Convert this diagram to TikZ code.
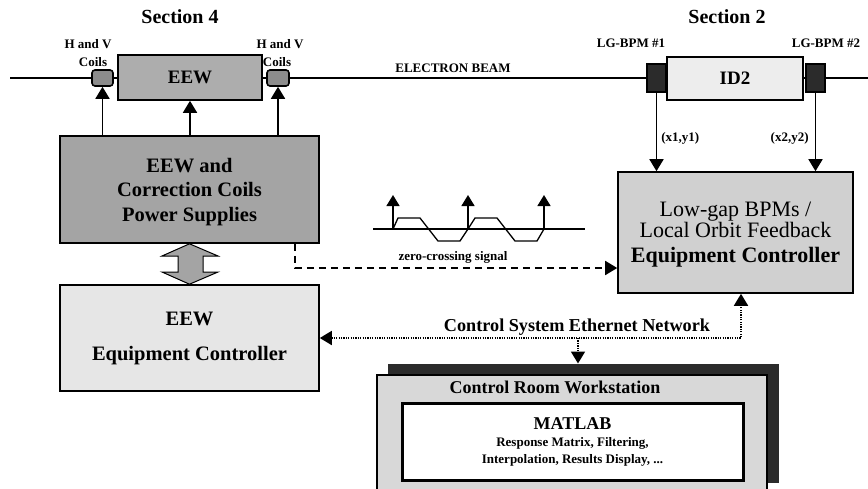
\documentclass[tikz,border=0pt]{standalone}
\usepackage{fontspec}
\setmainfont{Liberation Serif}
\usetikzlibrary{arrows.meta,calc}
\definecolor{psgray}{HTML}{A4A4A4}
\definecolor{eewgray}{HTML}{ADADAD}
\definecolor{coilgray}{HTML}{8C8C8C}
\definecolor{ctrlgray}{HTML}{E6E6E6}
\definecolor{lggray}{HTML}{D0D0D0}
\definecolor{wsgray}{HTML}{D8D8D8}
\definecolor{idgray}{HTML}{EDEDED}
\definecolor{darkblk}{HTML}{2B2B2B}
\begin{document}
\begin{tikzpicture}[x=1pt,y=-1pt,
  box/.style={draw=black,line width=1.6pt,inner sep=0pt,align=center},
  lab/.style={font=\fontsize{13}{15}\selectfont\bfseries,inner sep=0pt},
  big/.style={font=\fontsize{20}{24}\selectfont\bfseries,inner sep=0pt},
  tipA/.style={-{Triangle[width=14pt,length=12pt]}},
  arr/.style={line width=1.8pt,tipA},
  dasharr/.style={line width=1.8pt,dash pattern=on 7pt off 5pt,-{Triangle[width=14pt,length=12pt]}},
  net/.style={line width=1.8pt,dash pattern=on 1.3pt off 1.1pt},
  sig/.style={line width=1.3pt}
]
\useasboundingbox (0,0) rectangle (868,488);

% section labels
\node[big] (sec4) at (180,17) {Section 4};
\node[big] (sec2) at (727,17) {Section 2};

% electron beam
\coordinate (beamL) at (10,78);
\coordinate (beamR) at (868,78);
\draw[line width=1.5pt] (beamL) -- (beamR);
\node[lab] (beamlab) at (453,68) {ELECTRON BEAM};

% section 4 components
\node[box,fill=coilgray,rounded corners=3pt,minimum width=21pt,minimum height=16pt] (coilL) at (102.5,78) {};
\node[box,fill=eewgray,minimum width=144pt,minimum height=45pt,font=\fontsize{19}{22}\selectfont\bfseries] (eew) at (190,77.5) {EEW};
\node[box,fill=coilgray,rounded corners=3pt,minimum width=22pt,minimum height=16pt] (coilR) at (278,78) {};
\node[lab] (hvL1) at (88,44) {H and V};
\node[lab] (hvL2) at (93,62) {Coils};
\node[lab] (hvR1) at (280,44) {H and V};
\node[lab] (hvR2) at (277,62) {Coils};

% section 2 components
\node[box,fill=darkblk,minimum width=19pt,minimum height=28pt] (bpm1) at (656.5,78) {};
\node[box,fill=idgray,minimum width=136pt,minimum height=43pt,font=\fontsize{19}{22}\selectfont\bfseries] (id2) at (735,78.5) {ID2};
\node[box,fill=darkblk,minimum width=19pt,minimum height=28pt] (bpm2) at (815.5,78) {};
\node[lab] (bpmlab1) at (631,43) {LG-BPM \#1};
\node[lab] (bpmlab2) at (826,43) {LG-BPM \#2};

% power supplies
\node[box,fill=psgray,minimum width=259pt,minimum height=107pt,text depth=0pt,font=\fontsize{20.5}{24.5}\selectfont\bfseries] (ps) at (189.5,189.5)
  {EEW and\\Correction Coils\\Power Supplies};

% EEW equipment controller
\node[box,fill=ctrlgray,minimum width=259pt,minimum height=106pt,font=\fontsize{20.5}{23}\selectfont\bfseries] (eewc) at (189.5,338)
  {EEW\\[12pt]Equipment Controller};

% low gap controller
\node[box,fill=lggray,minimum width=235pt,minimum height=121pt,text depth=0pt,font=\fontsize{22}{20}\selectfont] (lgc) at (735.5,232.5)
  {Low-gap BPMs /\\Local Orbit Feedback\\[5pt]\bfseries Equipment Controller};

% workstation
\node[draw=darkblk,fill=darkblk,line width=1pt,minimum width=390pt,minimum height=118pt,inner sep=0pt] (wsback) at (583,423) {};
\node[box,fill=wsgray,minimum width=390pt,minimum height=124pt] (wsfront) at (572,437) {};
\node[inner sep=0pt,font=\fontsize{18}{20}\selectfont\bfseries] (wstitle) at (555,387) {Control Room Workstation};
\node[draw=black,fill=white,line width=3pt,minimum width=341pt,minimum height=77pt,inner sep=0pt,align=center,
      font=\fontsize{13}{17}\selectfont\bfseries] (matlab) at (572.5,441.5)
  {{\fontsize{18}{18}\selectfont MATLAB}\\
   Response Matrix, Filtering,\\
   Interpolation, Results Display, ...};

% double arrow between power supplies and controller
\draw[black,line width=1pt,fill=psgray] (ps.south) -- (162,256) -- (178,256) -- (178,272) -- (162,272) -- (eewc.north)
  -- (218,272) -- (203,272) -- (203,256) -- (218,256) -- cycle;

% power supply arrows
\draw[arr] (ps.north -| coilL.south) -- (coilL.south);
\draw[arr] (ps.north -| eew.south) -- (eew.south);
\draw[arr] (ps.north -| coilR.south) -- (coilR.south);

% BPM signals
\draw[arr] (bpm1.south) -- (lgc.north -| bpm1.south) node[lab,anchor=west,pos=0.58,xshift=4pt] {(x1,y1)};
\draw[arr] (bpm2.south) -- (lgc.north -| bpm2.south) node[lab,anchor=east,pos=0.58,xshift=-6pt] {(x2,y2)};

% zero-crossing dashed connection
\coordinate (dk) at (295,268);
\draw[dasharr] (ps.south -| dk) -- (dk) -- (lgc.west |- dk);

% zero-crossing signal sketch
\draw[sig] (373,229) -- (585,229);
\draw[sig] (393,229) -- (398,218) -- (420,218) -- (438,241) -- (460,241) -- (468,229)
  -- (475,218) -- (497,218) -- (515,241) -- (537,241) -- (544,229);
\foreach \xx in {393,468,544} {
  \draw[line width=1.4pt,-{Triangle[width=13pt,length=11pt]}] (\xx,229) -- (\xx,195);
}
\node[lab] (zclab) at (453,257) {zero-crossing signal};

% network
\coordinate (netR) at (741,338);
\coordinate (netM) at (578,338);
\draw[net,{Triangle[width=14pt,length=12pt]}-{Triangle[width=14pt,length=12pt]}] (eewc.east) -- (netR) -- (lgc.south -| netR);
\draw[net,tipA] (netM) -- (wsback.north -| netM);
\node[inner sep=0pt,font=\fontsize{18.2}{20}\selectfont\bfseries] (netlab) at (577,327) {Control System Ethernet Network};
\end{tikzpicture}
\end{document}
